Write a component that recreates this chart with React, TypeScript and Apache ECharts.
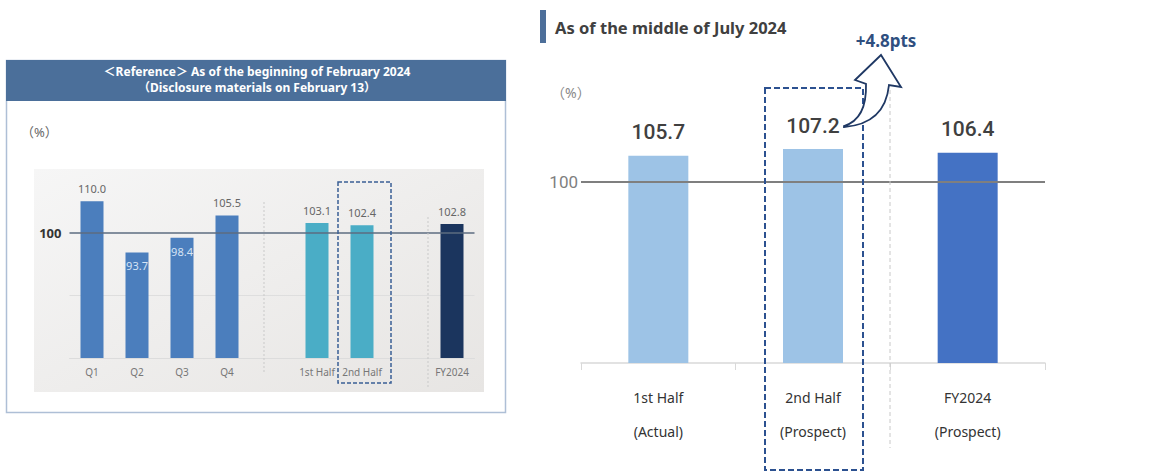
import React, { useEffect, useRef } from 'react';
import * as echarts from 'echarts';

const leftCategories = ['Q1', 'Q2', 'Q3', 'Q4', '', '1st Half', '2nd Half', '', 'FY2024'];
const leftValues: (number | null)[] = [110.0, 93.7, 98.4, 105.5, null, 103.1, 102.4, null, 102.8];
const leftKinds = ['quarter', 'quarter', 'quarter', 'quarter', 'gap', 'half', 'half', 'gap', 'year'];
const rightCategories = ['1st Half\n(Actual)', '2nd Half\n(Prospect)', 'FY2024\n(Prospect)'];
const rightValues = [105.7, 107.2, 106.4];
const rightKinds = ['half', 'half', 'year'];
const axisMin = 60;
const axisMax = 120;
const axisInterval = 20;
const baseline = 100;
const deltaLabel = '+4.8pts';
const leftTitle1 = '＜Reference＞ As of the beginning of February 2024';
const leftTitle2 = '（Disclosure materials on February 13）';
const rightTitle = 'As of the middle of July 2024';
const unitLabel = '（%）';

const FONT = '"Noto Sans", "Noto Sans CJK JP", sans-serif';

const leftColors: Record<string, string> = { quarter: '#4b7ebd', half: '#4aadc6', year: '#1b355e', gap: 'transparent' };
const rightColors: Record<string, string> = { half: '#9dc3e6', year: '#4472c4' };

const arrowPath = 'M844 126 Q867 119 866 84 L855 80 L881 55 L901 87 L889 85 Q885 124 844 127 Z';
echarts.graphic.registerShape('upArrow', (echarts.graphic as any).extendPath(arrowPath, {}));

export default function App() {
  const ref = useRef<HTMLDivElement>(null);
  useEffect(() => {
    document.body.style.margin = '0';
    const chart = echarts.init(ref.current!, undefined, { renderer: 'svg' });
    const option: any = {
      animation: false,
      textStyle: { fontFamily: FONT },
      grid: [
        { left: 69.5, width: 405, top: 170, height: 188 },
        { left: 581, width: 464, top: 91, height: 272 },
      ],
      xAxis: [
        {
          type: 'category', gridIndex: 0, data: leftCategories,
          axisTick: { show: false },
          axisLine: { lineStyle: { color: '#dcdcdc' } },
          axisLabel: { color: '#777', fontSize: 10, margin: 9, interval: 0 },
        },
        {
          type: 'category', gridIndex: 1, data: rightCategories,
          axisTick: { show: true, length: 7, lineStyle: { color: '#d9d9d9' } },
          axisLine: { lineStyle: { color: '#d9d9d9', width: 1.5 } },
          axisLabel: { color: '#333', fontSize: 14, lineHeight: 34, margin: 17, interval: 0 },
        },
      ],
      yAxis: [
        {
          type: 'value', gridIndex: 0, min: axisMin, max: axisMax, interval: axisInterval,
          axisLabel: { show: false }, axisLine: { show: false }, axisTick: { show: false },
          splitLine: { show: true, lineStyle: { color: ['transparent', '#dedede', 'transparent', 'transparent'] } },
        },
        {
          type: 'value', gridIndex: 1, min: axisMin, max: axisMax, interval: axisInterval,
          axisLabel: { show: false }, axisLine: { show: false }, axisTick: { show: false },
          splitLine: { show: false },
        },
      ],
      series: [
        {
          type: 'bar', xAxisIndex: 0, yAxisIndex: 0, barWidth: 23, z: 3,
          data: leftValues.map((v, i) =>
            v == null ? null : {
              value: v,
              itemStyle: { color: leftColors[leftKinds[i]] },
              label: v < baseline ? { position: 'insideTop', color: '#d6e4f5', distance: 8 } : undefined,
            }),
          label: {
            show: true, position: 'top', distance: 7, fontSize: 11, color: '#666',
            formatter: (p: any) => Number(p.value).toFixed(1),
          },
          markLine: {
            silent: true, symbol: 'none', z: 4,
            data: [{ yAxis: baseline }],
            lineStyle: { color: '#5d6d80', width: 1.5, type: 'solid' },
            label: { position: 'start', formatter: String(baseline), fontWeight: 'bold', fontSize: 13, color: '#333', distance: 8 },
          },
        },
        {
          type: 'bar', xAxisIndex: 1, yAxisIndex: 1, barWidth: 60, z: 3,
          data: rightValues.map((v, i) => ({ value: v, itemStyle: { color: rightColors[rightKinds[i]] } })),
          label: {
            show: true, position: 'top', distance: 13, fontSize: 21, fontWeight: 500, fontFamily: 'Roboto, "Noto Sans", sans-serif', color: '#404040',
            formatter: (p: any) => Number(p.value).toFixed(1),
          },
          markLine: {
            silent: true, symbol: 'none', z: 4,
            data: [{ yAxis: baseline }],
            lineStyle: { color: '#7f7f7f', width: 2, type: 'solid' },
            label: { position: 'start', formatter: String(baseline), fontSize: 17, color: '#7f7f7f', distance: 3, fontFamily: 'Roboto, "Noto Sans", sans-serif' },
          },
        },
      ],
      graphic: [
        { type: 'rect', z: -10, shape: { x: 6.5, y: 60.5, width: 499, height: 352 }, style: { fill: '#fff', stroke: '#aebfd6', lineWidth: 1.5 } },
        { type: 'rect', z: -9, shape: { x: 6, y: 60, width: 500, height: 41 }, style: { fill: '#4b6f9a' } },
        { type: 'text', z: -8, x: 257, y: 71.5, style: { text: leftTitle1, fill: '#fff', font: `bold 12px ${FONT}`, textAlign: 'center', textVerticalAlign: 'middle' } },
        { type: 'text', z: -8, x: 257, y: 87.5, style: { text: leftTitle2, fill: '#fff', font: `bold 12px ${FONT}`, textAlign: 'center', textVerticalAlign: 'middle' } },
        { type: 'text', z: -8, x: 21, y: 132, style: { text: unitLabel, fill: '#666', font: `13px ${FONT}`, textVerticalAlign: 'middle' } },
        {
          type: 'rect', z: -9, shape: { x: 34, y: 169, width: 450, height: 223 },
          style: { fill: new echarts.graphic.LinearGradient(0, 0, 1, 1, [{ offset: 0, color: '#f6f6f6' }, { offset: 1, color: '#e7e5e3' }]) },
        },
        { type: 'line', z: 5, shape: { x1: 264, y1: 202, x2: 264, y2: 373 }, style: { stroke: '#c9c9c9', lineWidth: 1, lineDash: [2, 2] } },
        { type: 'line', z: 5, shape: { x1: 428, y1: 217, x2: 428, y2: 388 }, style: { stroke: '#c9c9c9', lineWidth: 1, lineDash: [2, 2] } },
        { type: 'rect', z: 10, shape: { x: 338, y: 182, width: 53, height: 201 }, style: { fill: 'none', stroke: '#3a5f95', lineWidth: 1.5, lineDash: [4, 2] } },
        { type: 'rect', z: 5, shape: { x: 540, y: 10, width: 6, height: 33 }, style: { fill: '#4d6f9a' } },
        { type: 'text', z: 5, x: 555, y: 27, style: { text: rightTitle, fill: '#404040', font: `bold 16.5px ${FONT}`, textVerticalAlign: 'middle' } },
        { type: 'text', z: 5, x: 551, y: 92, style: { text: unitLabel, fill: '#888', font: `14px ${FONT}`, textVerticalAlign: 'middle' } },
        { type: 'line', z: 5, shape: { x1: 890, y1: 90, x2: 890, y2: 448 }, style: { stroke: '#c8c8c8', lineWidth: 1, lineDash: [4, 3] } },
        { type: 'rect', z: 10, shape: { x: 765, y: 88, width: 98, height: 382 }, style: { fill: 'none', stroke: '#2c5190', lineWidth: 2, lineDash: [6, 3] } },
        { type: 'upArrow', z: 11, x: 0, y: 0, style: { fill: '#fff', stroke: '#1f3864', lineWidth: 1.8 } },
        { type: 'text', z: 11, x: 886, y: 40, style: { text: deltaLabel, fill: '#2f4f7f', font: `bold 17px ${FONT}`, textAlign: 'center', textVerticalAlign: 'middle' } },
      ],
    };
    chart.setOption(option);
    return () => chart.dispose();
  }, []);
  return <div ref={ref} style={{ width: 1154, height: 472 }} />;
}
